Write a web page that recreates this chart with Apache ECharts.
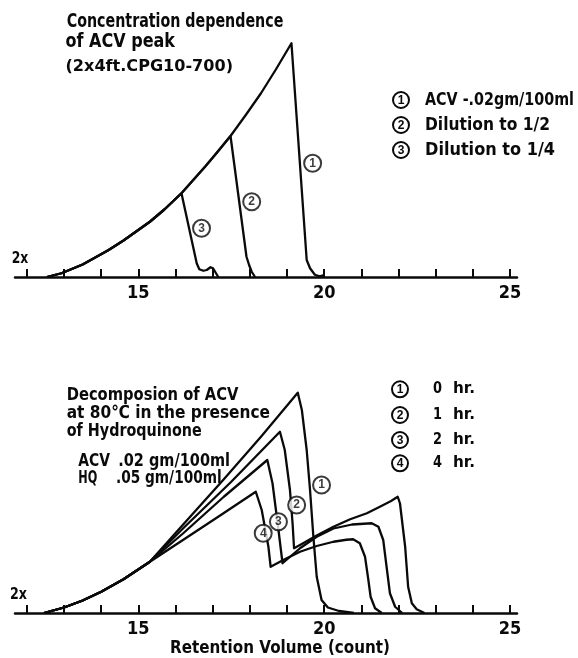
<!DOCTYPE html>
<html>
<head>
<meta charset="utf-8">
<script src="https://cdn.jsdelivr.net/npm/echarts@6/dist/echarts.min.js"></script>
<style>
  html, body { margin: 0; padding: 0; background: #fff; }
  #chart { width: 578px; height: 658px; }
</style>
</head>
<body>
<div id="chart"></div>
<script>
// ---- Axis ticks and labels (retention volume, counts) ----
const tickValues = [12, 13, 14, 15, 16, 17, 18, 19, 20, 21, 22, 23, 24, 25];
const tickLabels = [15, 20, 25];

// ---- Upper panel: concentration dependence of the ACV peak ----
// [retention volume, detector response]
const concRise = [[12.54,0],[12.93,1.5],[13.5,5],[13.96,8.8],[14.2,10.8],[14.6,14.6],[15.31,22.1],[15.7,27],[16.16,33.5],[16.8,44.2],
  [17.1,49.5],[17.48,56.4],[17.9,65],[18.3,73.5],[18.7,83],[19.12,93.5]];
const conc1Fall = [[19.53,6.8],[19.62,3.5],[19.75,0.9],[19.88,0.3],[19.95,0.6],[20.0,0]];
const conc2Fall = [[17.91,8.1],[17.98,4.8],[18.05,2.1],[18.14,0]];
const conc3Fall = [[16.57,5.5],[16.64,3.1],[16.75,2.5],[16.84,2.8],[16.94,3.9],[17.01,3.5],[17.15,0]];
const concPeaks = [19.12, 17.48, 16.16];
const concMarks = [[19.69,45.5,'1'],[18.05,30.1,'2'],[16.70,19.5,'3']];

// ---- Lower panel: decomposition at 80 C with hydroquinone ----
const decompRise = [[12.46,0],[13,2.2],[13.5,5],[14,8.5],[14.6,13.5],[15.31,20.5]];
const hr0 = [[16.2,35.3],[17.3,53.5],[18.3,70.5],[19.29,88.1],
  [19.40,81.2],[19.53,65.2],[19.62,49.2],[19.71,30.5],[19.80,14.5],[19.93,5.2],[20.1,2.2],[20.4,0.8],[20.8,0]];
const hr1 = [[16.2,33.8],[17.5,52.5],[18.81,72.5],
  [18.94,65.2],[19.08,49.2],[19.15,35.9],[19.19,25.9],
  [19.35,27.2],[19.8,31],[20.25,34.5],[20.7,37.5],[21.15,39.9],[21.5,42.5],[21.8,44.8],[21.98,46.5],
  [22.04,43.9],[22.18,26.5],[22.26,10.5],[22.36,3.9],[22.49,1.5],[22.7,0]];
const hr2 = [[16.2,31.8],[17.3,46.5],[18.47,61.2],
  [18.61,51.9],[18.76,34.5],[18.88,19.9],
  [19.35,25.9],[19.8,30.5],[20.25,33.8],[20.75,35.4],[21.28,35.9],
  [21.46,34.5],[21.59,29.2],[21.68,18.5],[21.77,7.9],[21.91,2.5],[22.1,0]];
const hr4 = [[16.2,29.2],[17.2,39],[18.16,48.5],
  [18.32,41.2],[18.5,26.5],[18.56,18.5],
  [18.9,21.2],[19.35,24.5],[19.8,26.8],[20.25,28.5],[20.6,29.3],[20.78,29.5],
  [20.96,27.9],[21.1,22.5],[21.19,13.2],[21.25,6.5],[21.37,1.9],[21.55,0]];
const hrMarks = [[19.93,51.2,'1'],[19.26,43.2,'2'],[18.77,36.5,'3'],[18.36,31.9,'4']];

// ---- Text blocks ----
const concTitle = ['Concentration dependence', 'of ACV peak', '(2x4ft.CPG10-700)'];
const concLegend = [['1', 'ACV -.02gm/100ml'], ['2', 'Dilution to 1/2'], ['3', 'Dilution to 1/4']];
const decompTitle = ['Decomposion of ACV', 'at 80\u2103 in the presence', 'of Hydroquinone'];
const decompConc = [['ACV', '.02 gm/100ml'], ['HQ', '.05 gm/100ml']];
const decompLegend = [['1', '0', 'hr.'], ['2', '1', 'hr.'], ['3', '2', 'hr.'], ['4', '4', 'hr.']];
const scaleNote = '2x';
const xName = 'Retention Volume (count)';

const INK = '#0a0a0a';
const FAMILY = '"DejaVu Sans"';
const NARROW = '"Liberation Sans Narrow", "DejaVu Sans Condensed", "Liberation Sans"';

// rising branch up to a given peak, shared by the traces of one panel
function upTo(rise, xPeak) { return rise.filter(p => p[0] <= xPeak); }

function xAxisFor(grid) {
  return {
    type: 'value', gridIndex: grid, min: 11.68, max: 25.19,
    splitLine: { show: false },
    axisLine: { onZero: false, lineStyle: { color: INK, width: 2.5 } },
    axisTick: { inside: true, length: 8, customValues: tickValues, lineStyle: { color: INK, width: 2 } },
    axisLabel: { customValues: tickLabels, color: INK, fontSize: 18, fontWeight: 'bold', fontFamily: NARROW, margin: 7 }
  };
}
function yAxisFor(grid) {
  return { type: 'value', gridIndex: grid, min: 0, max: 100, show: false };
}
function trace(data, grid) {
  return {
    type: 'line', xAxisIndex: grid, yAxisIndex: grid, data: data,
    symbol: 'none', silent: true, animation: false,
    lineStyle: { color: INK, width: 2.3, join: 'round' }, z: 2
  };
}
function marks(data, grid) {
  return {
    type: 'scatter', xAxisIndex: grid, yAxisIndex: grid, data: data,
    symbol: 'circle', symbolSize: 17, silent: true, animation: false, z: 5,
    itemStyle: { color: '#fff', borderColor: INK, borderWidth: 2 },
    label: { show: true, position: 'inside', formatter: p => p.value[2],
      color: INK, fontSize: 12, fontWeight: 'bold', fontFamily: '"Liberation Sans"' }
  };
}

// text stretched horizontally so that it spans x0..x1
const measure = document.createElement('canvas').getContext('2d');
function fitText(s, x0, x1, cy, size) {
  const font = 'bold ' + size + 'px ' + FAMILY;
  measure.font = font;
  const w = measure.measureText(s).width;
  return { type: 'text', x: x0, y: cy, scaleX: (x1 - x0) / w,
    style: { text: s, font: font, fill: INK, align: 'left', verticalAlign: 'middle' } };
}
function circled(cx, cy, n) {
  return [
    { type: 'circle', shape: { cx: cx, cy: cy, r: 8 }, style: { fill: '#fff', stroke: INK, lineWidth: 2 } },
    { type: 'text', x: cx, y: cy + 0.5, style: { text: n, fill: INK, font: 'bold 12px "Liberation Sans"', align: 'center', verticalAlign: 'middle' } }
  ];
}

const graphics = [];
// upper panel notes
graphics.push(fitText(concTitle[0], 66.7, 283.3, 21.7, 19));
graphics.push(fitText(concTitle[1], 65.5, 175, 41.7, 19));
graphics.push(fitText(concTitle[2], 65.5, 233, 66.7, 16));
const concLegendEnd = [574, 550, 555];
concLegend.forEach((r, i) => {
  const y = 100 + i * 25;
  graphics.push(...circled(401, y, r[0]));
  graphics.push(fitText(r[1], 425, concLegendEnd[i], y, 18));
});
// lower panel notes
const decompTitleEnd = [238.3, 270, 201.7];
decompTitle.forEach((s, i) => graphics.push(fitText(s, 66.7, decompTitleEnd[i], [395, 413.3, 431.7][i], 18)));
graphics.push(fitText(decompConc[0][0], 78.3, 110, 461.7, 17));
graphics.push(fitText(decompConc[0][1], 118.3, 230, 461.7, 17));
graphics.push(fitText(decompConc[1][0], 78.3, 97.3, 478.3, 17));
graphics.push(fitText(decompConc[1][1], 116, 221.7, 478.3, 17));
const legendRows = [389.3, 415, 440, 463.3];
decompLegend.forEach((r, i) => {
  const y = legendRows[i];
  graphics.push(...circled(400, y, r[0]));
  graphics.push(fitText(r[1], 433, 442, y, 16));
  graphics.push(fitText(r[2], 453, 475, y, 16));
});
graphics.push(fitText(scaleNote, 11.7, 28.3, 259, 16));
graphics.push(fitText(scaleNote, 10, 27, 595, 16));
graphics.push(fitText(xName, 170, 390, 649, 17));

const chart = echarts.init(document.getElementById('chart'), null, { renderer: 'canvas' });
chart.setOption({
  backgroundColor: '#fff',
  animation: false,
  grid: [
    { left: 15, right: 61, top: 27, height: 250 },
    { left: 15, right: 61, top: 363, height: 250 }
  ],
  xAxis: [xAxisFor(0), xAxisFor(1)],
  yAxis: [yAxisFor(0), yAxisFor(1)],
  series: [
    trace(upTo(concRise, concPeaks[0]).concat(conc1Fall), 0),
    trace(upTo(concRise, concPeaks[1]).concat(conc2Fall), 0),
    trace(upTo(concRise, concPeaks[2]).concat(conc3Fall), 0),
    marks(concMarks, 0),
    trace(decompRise.concat(hr0), 1),
    trace(decompRise.concat(hr1), 1),
    trace(decompRise.concat(hr2), 1),
    trace(decompRise.concat(hr4), 1),
    marks(hrMarks, 1)
  ],
  graphic: graphics
});
</script>
</body>
</html>
